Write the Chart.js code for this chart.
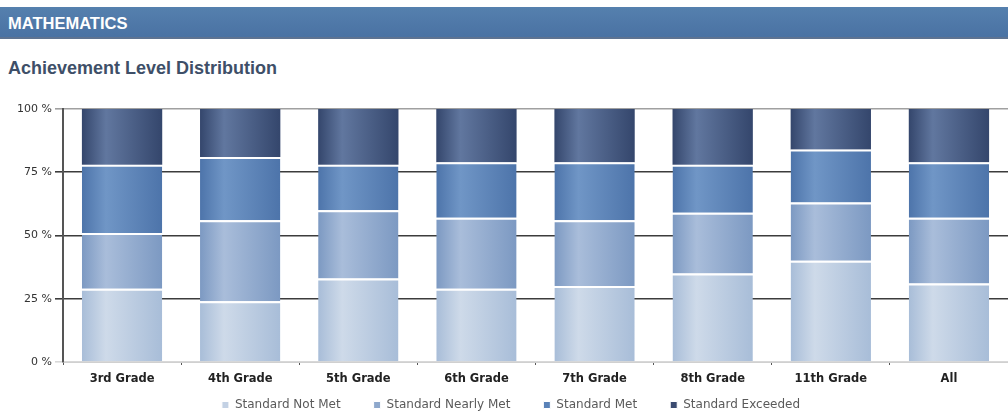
<!DOCTYPE html>
<html>
<head>
<meta charset="utf-8">
<script src="https://cdn.jsdelivr.net/npm/chart.js@4"></script>
<style>
    html, body { margin: 0; padding: 0; background: #fff; width: 1008px; height: 412px; overflow: hidden; }
    #hdr {
        position: absolute; left: 0; top: 7px; width: 1008px; height: 32px;
        background: linear-gradient(#5580ae, #4a72a3);
        border-bottom: 2px solid #5e7391;
        color: #fff; font: bold 16.5px "Liberation Sans", Arial, sans-serif;
        line-height: 32px; padding-left: 8px; box-sizing: border-box;
    }
    #sub {
        position: absolute; left: 8px; top: 58px;
        color: #3e4f68; font: bold 18px "Liberation Sans", Arial, sans-serif;
    }
    #wrap { position: absolute; left: 0; top: 96px; width: 1008px; height: 316px; }
</style>
</head>
<body>
<div id="hdr">MATHEMATICS</div>
<div id="sub">Achievement Level Distribution</div>
<div id="wrap"><canvas id="achChart"></canvas></div>
<script>
const grades = ['3rd Grade', '4th Grade', '5th Grade', '6th Grade', '7th Grade', '8th Grade', '11th Grade', 'All'];
const yTicks = [0, 25, 50, 75, 100];

// percent of students per level
const notMet = [29, 24, 33, 29, 30, 35, 40, 31];
const nearlyMet = [22, 32, 27, 28, 26, 24, 23, 26];
const met = [27, 25, 18, 22, 23, 19, 21, 22];
const exceeded = [22, 19, 22, 21, 21, 22, 16, 21];

// [edge, highlight, legend]
const shades = {
    notMet: ['#a8bdd8', '#cedae9', '#c3d1e4'],
    nearlyMet: ['#7c99c2', '#a9bdda', '#8ea8cc'],
    met: ['#4d74aa', '#7096c6', '#5a82b8'],
    exceeded: ['#34466c', '#61779f', '#3a4b70']
};

const BAR_PCT = 0.68;

function barGradient(key) {
    return function (context) {
        const chart = context.chart;
        const xs = chart.scales.x;
        const c = shades[key];
        if (context.type !== 'data' || !xs || !chart.chartArea) return c[2];
        const cx = xs.getPixelForValue(context.dataIndex);
        const w = xs.width / grades.length * BAR_PCT;
        const g = chart.ctx.createLinearGradient(cx - w / 2, 0, cx + w / 2, 0);
        g.addColorStop(0, c[0]);
        g.addColorStop(0.3, c[1]);
        g.addColorStop(1, c[0]);
        return g;
    };
}

function makeSet(label, data, key, topLine) {
    return {
        label: label,
        data: data,
        backgroundColor: barGradient(key),
        borderColor: '#ffffff',
        borderWidth: { top: topLine, left: 0, right: 0, bottom: 0 },
        borderSkipped: false,
        barPercentage: BAR_PCT,
        categoryPercentage: 1
    };
}

// legend padding is used for both gaps: reserve a short row, then stretch the box upwards
const legendFit = {
    id: 'legendFit',
    beforeInit(chart) {
        const orig = chart.legend.fit;
        chart.legend.fit = function () {
            orig.call(this);
            this.height = 20;
        };
    },
    afterLayout(chart) {
        chart.legend.top -= 26;
        chart.legend.left += 14;
    }
};

function gridColor(ctx) {
    const v = ctx.tick ? ctx.tick.value : null;
    if (v === 0) return '#d8d8d8';
    if (v === 100) return '#a0a0a0';
    return '#3c3c3c';
}

const achCtx = document.getElementById('achChart');
window.achChart = new Chart(achCtx.getContext('2d'), {
    type: 'bar',
    data: {
        labels: grades,
        datasets: [
            makeSet('Standard Not Met', notMet, 'notMet', 2),
            makeSet('Standard Nearly Met', nearlyMet, 'nearlyMet', 2),
            makeSet('Standard Met', met, 'met', 2),
            makeSet('Standard Exceeded', exceeded, 'exceeded', 0)
        ]
    },
    options: {
        responsive: true,
        maintainAspectRatio: false,
        animation: false,
        layout: { padding: { top: 13, left: 0, right: 0, bottom: 0 } },
        scales: {
            x: {
                stacked: true,
                grid: { display: true, drawOnChartArea: false, offset: true, tickLength: 3, color: '#555', lineWidth: 1 },
                border: { color: '#d0d0d0', width: 1 },
                ticks: {
                    padding: 7,
                    color: '#222',
                    font: { family: 'DejaVu Sans', size: 11.5, weight: 'bold' }
                },
                afterFit(scale) { scale.height = 30; }
            },
            y: {
                stacked: true,
                min: 0,
                max: 100,
                afterBuildTicks(scale) { scale.ticks = yTicks.map(v => ({ value: v })); },
                grid: { color: gridColor, lineWidth: 1.6, tickLength: 8 },
                border: { color: '#555', width: 2 },
                ticks: {
                    padding: 3,
                    color: '#333',
                    font: { family: 'DejaVu Sans', size: 11 },
                    callback: v => v + ' %'
                },
                afterFit(scale) { scale.width = 63; }
            }
        },
        plugins: {
            legend: {
                position: 'bottom',
                labels: {
                    boxWidth: 7,
                    boxHeight: 7,
                    padding: 33,
                    color: '#5a5a5a',
                    font: { family: 'DejaVu Sans', size: 12 },
                    generateLabels(chart) {
                        return chart.data.datasets.map((ds, i) => ({
                            text: ds.label,
                            fillStyle: Object.values(shades)[i][2],
                            strokeStyle: '#ffffff',
                            lineWidth: 1,
                            hidden: false,
                            datasetIndex: i,
                            fontColor: '#5a5a5a'
                        }));
                    }
                }
            },
            tooltip: { enabled: false }
        }
    },
    plugins: [legendFit]
});
</script>
</body>
</html>
